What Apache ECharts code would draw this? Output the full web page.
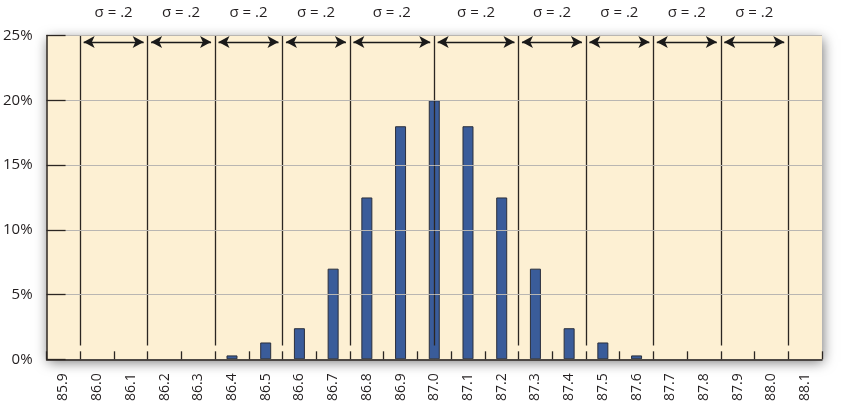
<!DOCTYPE html>
<html>
<head>
<meta charset="utf-8">
<script src="https://cdn.jsdelivr.net/npm/echarts@6/dist/echarts.min.js"></script>
<style>
  html, body { margin: 0; padding: 0; background: #fff; }
  #chart { width: 842px; height: 404px; }
</style>
</head>
<body>
<div id="chart"></div>
<script>
// measured values (x labels), percent of readings in each bin
var categories = ['85.9','86.0','86.1','86.2','86.3','86.4','86.5','86.6','86.7','86.8','86.9','87.0',
                  '87.1','87.2','87.3','87.4','87.5','87.6','87.7','87.8','87.9','88.0','88.1'];
var percents = [0, 0, 0, 0, 0, 0.3, 1.3, 2.4, 7, 12.5, 18, 20, 18, 12.5, 7, 2.4, 1.3, 0.3, 0, 0, 0, 0, 0];
// vertical separators (in measured units) and the sigma labels between them
var sigmaLines = [85.95, 86.15, 86.35, 86.55, 86.75, 87.0, 87.25, 87.45, 87.65, 87.85, 88.05];
var sigmaLabel = 'σ = .2';
var yTicks = [0, 5, 10, 15, 20, 25];

window.onload = function () {
    var myChart = echarts.init(document.getElementById('chart'));
    var ink = '#2b2622';
    var font = 'Open Sans';

    var lineData = sigmaLines.map(function (x) {
        return [{ coord: [x, 1.07] }, { coord: [x, 25] }];
    });
    var arrowData = [];
    for (var i = 0; i < sigmaLines.length - 1; i++) {
        arrowData.push([
            { coord: [sigmaLines[i] + 0.01, 24.5] },
            { coord: [sigmaLines[i + 1] - 0.012, 24.5] }
        ]);
    }

    var option = {
        animation: false,
        textStyle: { fontFamily: font },
        grid: {
            left: 43, right: 20, top: 35.6, bottom: 43,
            show: true,
            z: 0,
            backgroundColor: '#fdf0d3',
            borderWidth: 0,
            shadowBlur: 12,
            shadowColor: 'rgba(0,0,0,0.55)',
            shadowOffsetX: 1,
            shadowOffsetY: 3
        },
        xAxis: [{
            type: 'category',
            data: categories,
            boundaryGap: true,
            z: 10,
            axisLine: { lineStyle: { color: ink, width: 1.5 } },
            axisTick: { show: true, inside: true, length: 8, lineStyle: { color: ink, width: 1.3 } },
            axisLabel: { rotate: 90, margin: 14, fontSize: 14, color: '#231f20', fontFamily: font, interval: 0 }
        }, {
            type: 'value',
            min: 85.85,
            max: 88.15,
            show: false
        }],
        yAxis: {
            type: 'value',
            min: 0,
            max: 25,
            interval: 5,
            z: 10,
            axisLine: { show: true, lineStyle: { color: ink, width: 1.5 } },
            axisTick: { show: true, inside: true, length: 19, lineStyle: { color: ink, width: 1.3 } },
            axisLabel: {
                margin: 14, fontSize: 15, color: '#231f20', fontFamily: font,
                formatter: function (v) { return yTicks.indexOf(v) >= 0 ? v + '%' : ''; }
            },
            splitLine: { lineStyle: { color: '#b9b6b2', width: 1 } }
        },
        series: [{
            type: 'bar',
            xAxisIndex: 0,
            barWidth: 11,
            data: percents.map(function (v) { return v > 0 ? v : '-'; }),
            itemStyle: { color: '#3a5c9a', borderColor: '#2a2f3c', borderWidth: 1 }
        }, {
            type: 'scatter',
            xAxisIndex: 1,
            data: [],
            markLine: {
                silent: true,
                symbol: ['none', 'none'],
                label: { show: false },
                lineStyle: { color: ink, width: 1.3, type: 'solid' },
                data: lineData
            }
        }, {
            type: 'scatter',
            xAxisIndex: 1,
            data: [],
            markLine: {
                silent: true,
                symbol: ['arrow', 'arrow'],
                symbolSize: [9, 11],
                label: {
                    show: true,
                    position: 'insideMiddleTop',
                    distance: 22,
                    formatter: sigmaLabel,
                    fontSize: 15,
                    color: '#231f20',
                    fontFamily: font
                },
                lineStyle: { color: '#1a1a1a', width: 1.4, type: 'solid' },
                itemStyle: { color: '#1a1a1a' },
                data: arrowData
            }
        }]
    };
    myChart.setOption(option, true);
};
</script>
</body>
</html>
